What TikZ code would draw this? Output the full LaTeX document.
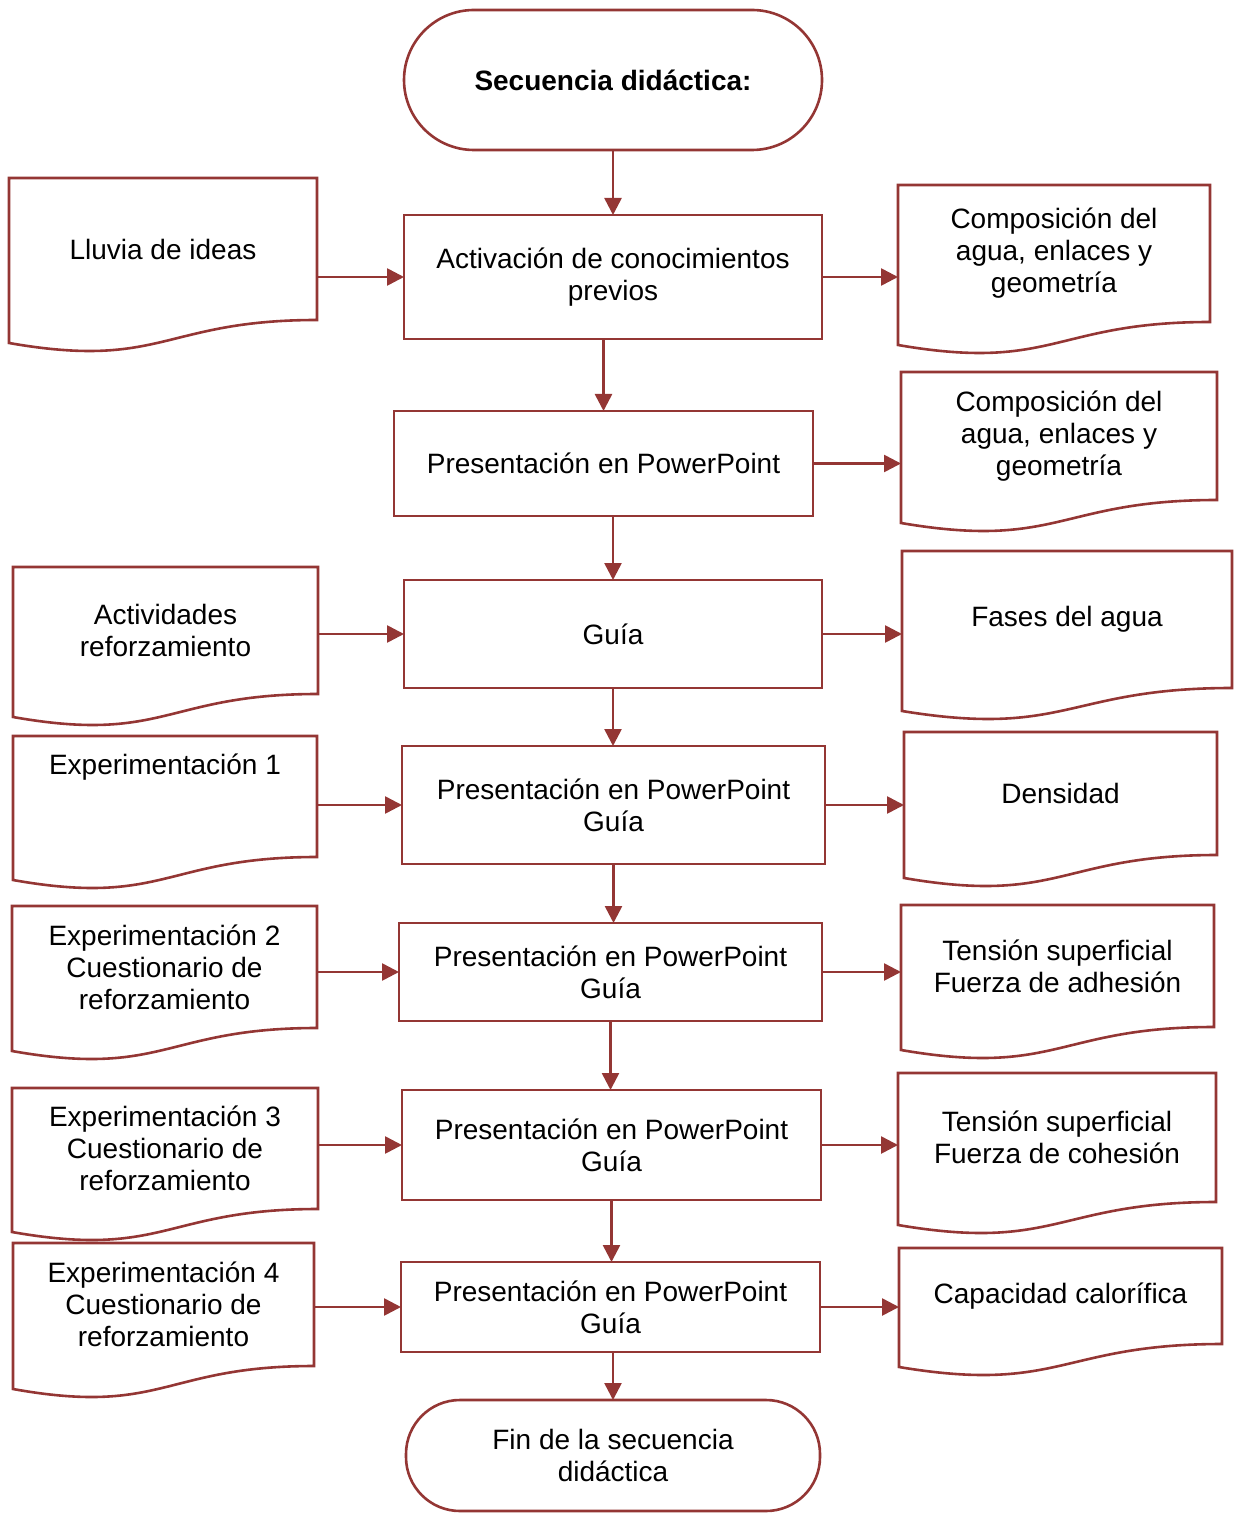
\documentclass[tikz,border=0pt]{standalone}
\usepackage{fontspec}
\setmainfont{Liberation Sans}
\usetikzlibrary{arrows.meta,calc}
\definecolor{docred}{RGB}{148,54,52}
\begin{document}
\begin{tikzpicture}[x=0.5pt,y=-0.5pt,
  font=\fontsize{14}{16}\selectfont,
  every node/.style={align=center,inner sep=2pt,outer sep=0pt},
  term/.style={rectangle,draw=docred,line width=1.3pt},
  procbox/.style={rectangle,draw=docred,line width=1.3pt},
  docbox/.style={rectangle},
  docline/.style={draw=docred,line width=1.3pt,line join=miter},
  arr/.style={draw=docred,line width=1.3pt,-{Triangle[length=8.5pt,width=8.5pt]}}]
\useasboundingbox (0,0) rectangle (1233,1513);
% central column
\node[term,rounded corners=35pt,minimum width=209pt,minimum height=70pt] (Start) at (613,80) {\textbf{Secuencia didáctica:}};
\node[procbox,minimum width=209pt,minimum height=62pt] (C1) at (613,277) {Activación de conocimientos\\previos};
\node[procbox,minimum width=209.5pt,minimum height=52.5pt] (C2) at (603.5,463.5) {Presentación en PowerPoint};
\node[procbox,minimum width=209pt,minimum height=54pt] (C3) at (613,634) {Guía};
\node[procbox,minimum width=211.5pt,minimum height=59pt] (C4) at (613.5,805) {Presentación en PowerPoint\\Guía};
\node[procbox,minimum width=211.5pt,minimum height=49pt] (C5) at (610.5,972) {Presentación en PowerPoint\\Guía};
\node[procbox,minimum width=209.5pt,minimum height=55pt] (C6) at (611.5,1145) {Presentación en PowerPoint\\Guía};
\node[procbox,minimum width=209.5pt,minimum height=45pt] (C7) at (610.5,1307) {Presentación en PowerPoint\\Guía};
\node[term,rounded corners=27pt,minimum width=207pt,minimum height=55.5pt] (End) at (613,1455.5) {Fin de la secuencia\\didáctica};
% left column
\node[docbox,minimum width=154pt,minimum height=71pt] (L1) at (163,249) {Lluvia de ideas};
\node[docbox,minimum width=152.5pt,minimum height=63.5pt] (L2) at (165.5,630.5) {Actividades\\reforzamiento};
\node[docbox,minimum width=152pt,minimum height=60.5pt] (L3) at (165,796.5) {Experimentación 1\\~\\~};
\node[docbox,minimum width=152.5pt,minimum height=61pt] (L4) at (164.5,967) {Experimentación 2\\Cuestionario de\\reforzamiento};
\node[docbox,minimum width=153pt,minimum height=60.5pt] (L5) at (165,1148.5) {Experimentación 3\\Cuestionario de\\reforzamiento};
\node[docbox,minimum width=150.5pt,minimum height=61.5pt] (L6) at (163.5,1304.5) {Experimentación 4\\Cuestionario de\\reforzamiento};
% right column
\node[docbox,minimum width=156pt,minimum height=68.5pt] (R1) at (1054,253.5) {Composición del\\agua, enlaces y\\geometría};
\node[docbox,minimum width=158pt,minimum height=64pt] (R2) at (1059,436) {Composición del\\agua, enlaces y\\geometría};
\node[docbox,minimum width=165pt,minimum height=68.5pt] (R3) at (1067,619.5) {Fases del agua};
\node[docbox,minimum width=156.5pt,minimum height=61.5pt] (R4) at (1060.5,793.5) {Densidad};
\node[docbox,minimum width=156.5pt,minimum height=61pt] (R5) at (1057.5,966) {Tensión superficial\\Fuerza de adhesión};
\node[docbox,minimum width=159pt,minimum height=64.5pt] (R6) at (1057,1137.5) {Tensión superficial\\Fuerza de cohesión};
\node[docbox,minimum width=161.5pt,minimum height=48pt] (R7) at (1060.5,1296) {Capacidad calorífica};
% document outlines with wavy bottom
\foreach \n in {L1,L2,L3,L4,L5,L6,R1,R2,R3,R4,R5,R6,R7}
  \draw[docline] (\n.north west) -- (\n.north east) -- (\n.south east)
    .. controls ($(\n.south west)!0.5!(\n.south east)$)
    and ($(\n.south west)!0.5!(\n.south east)+(0,-25pt)$)
    .. ([yshift=-11.5pt]\n.south west) -- cycle;
% vertical flow
\draw[arr] (Start) -- (C1);
\draw[arr] (C1.south -| C2.north) -- (C2.north);
\draw[arr] (C2.south -| C3.north) -- (C3.north);
\draw[arr] (C3.south) -- (C3.south |- C4.north);
\draw[arr] (C4.south) -- (C4.south |- C5.north);
\draw[arr] (C5.south) -- (C5.south |- C6.north);
\draw[arr] (C6.south) -- (C6.south |- C7.north);
\draw[arr] (C7.south -| End.north) -- (End.north);
% inputs from the left
\draw[arr] (L1.east |- C1) -- (C1.west);
\draw[arr] (L2.east |- C3) -- (C3.west);
\draw[arr] (L3.east |- C4) -- (C4.west);
\draw[arr] (L4.east |- C5) -- (C5.west);
\draw[arr] (L5.east |- C6) -- (C6.west);
\draw[arr] (L6.east |- C7) -- (C7.west);
% outputs to the right
\draw[arr] (C1.east) -- (C1.east -| R1.west);
\draw[arr] (C2.east) -- (C2.east -| R2.west);
\draw[arr] (C3.east) -- (C3.east -| R3.west);
\draw[arr] (C4.east) -- (C4.east -| R4.west);
\draw[arr] (C5.east) -- (C5.east -| R5.west);
\draw[arr] (C6.east) -- (C6.east -| R6.west);
\draw[arr] (C7.east) -- (C7.east -| R7.west);
\end{tikzpicture}
\end{document}
